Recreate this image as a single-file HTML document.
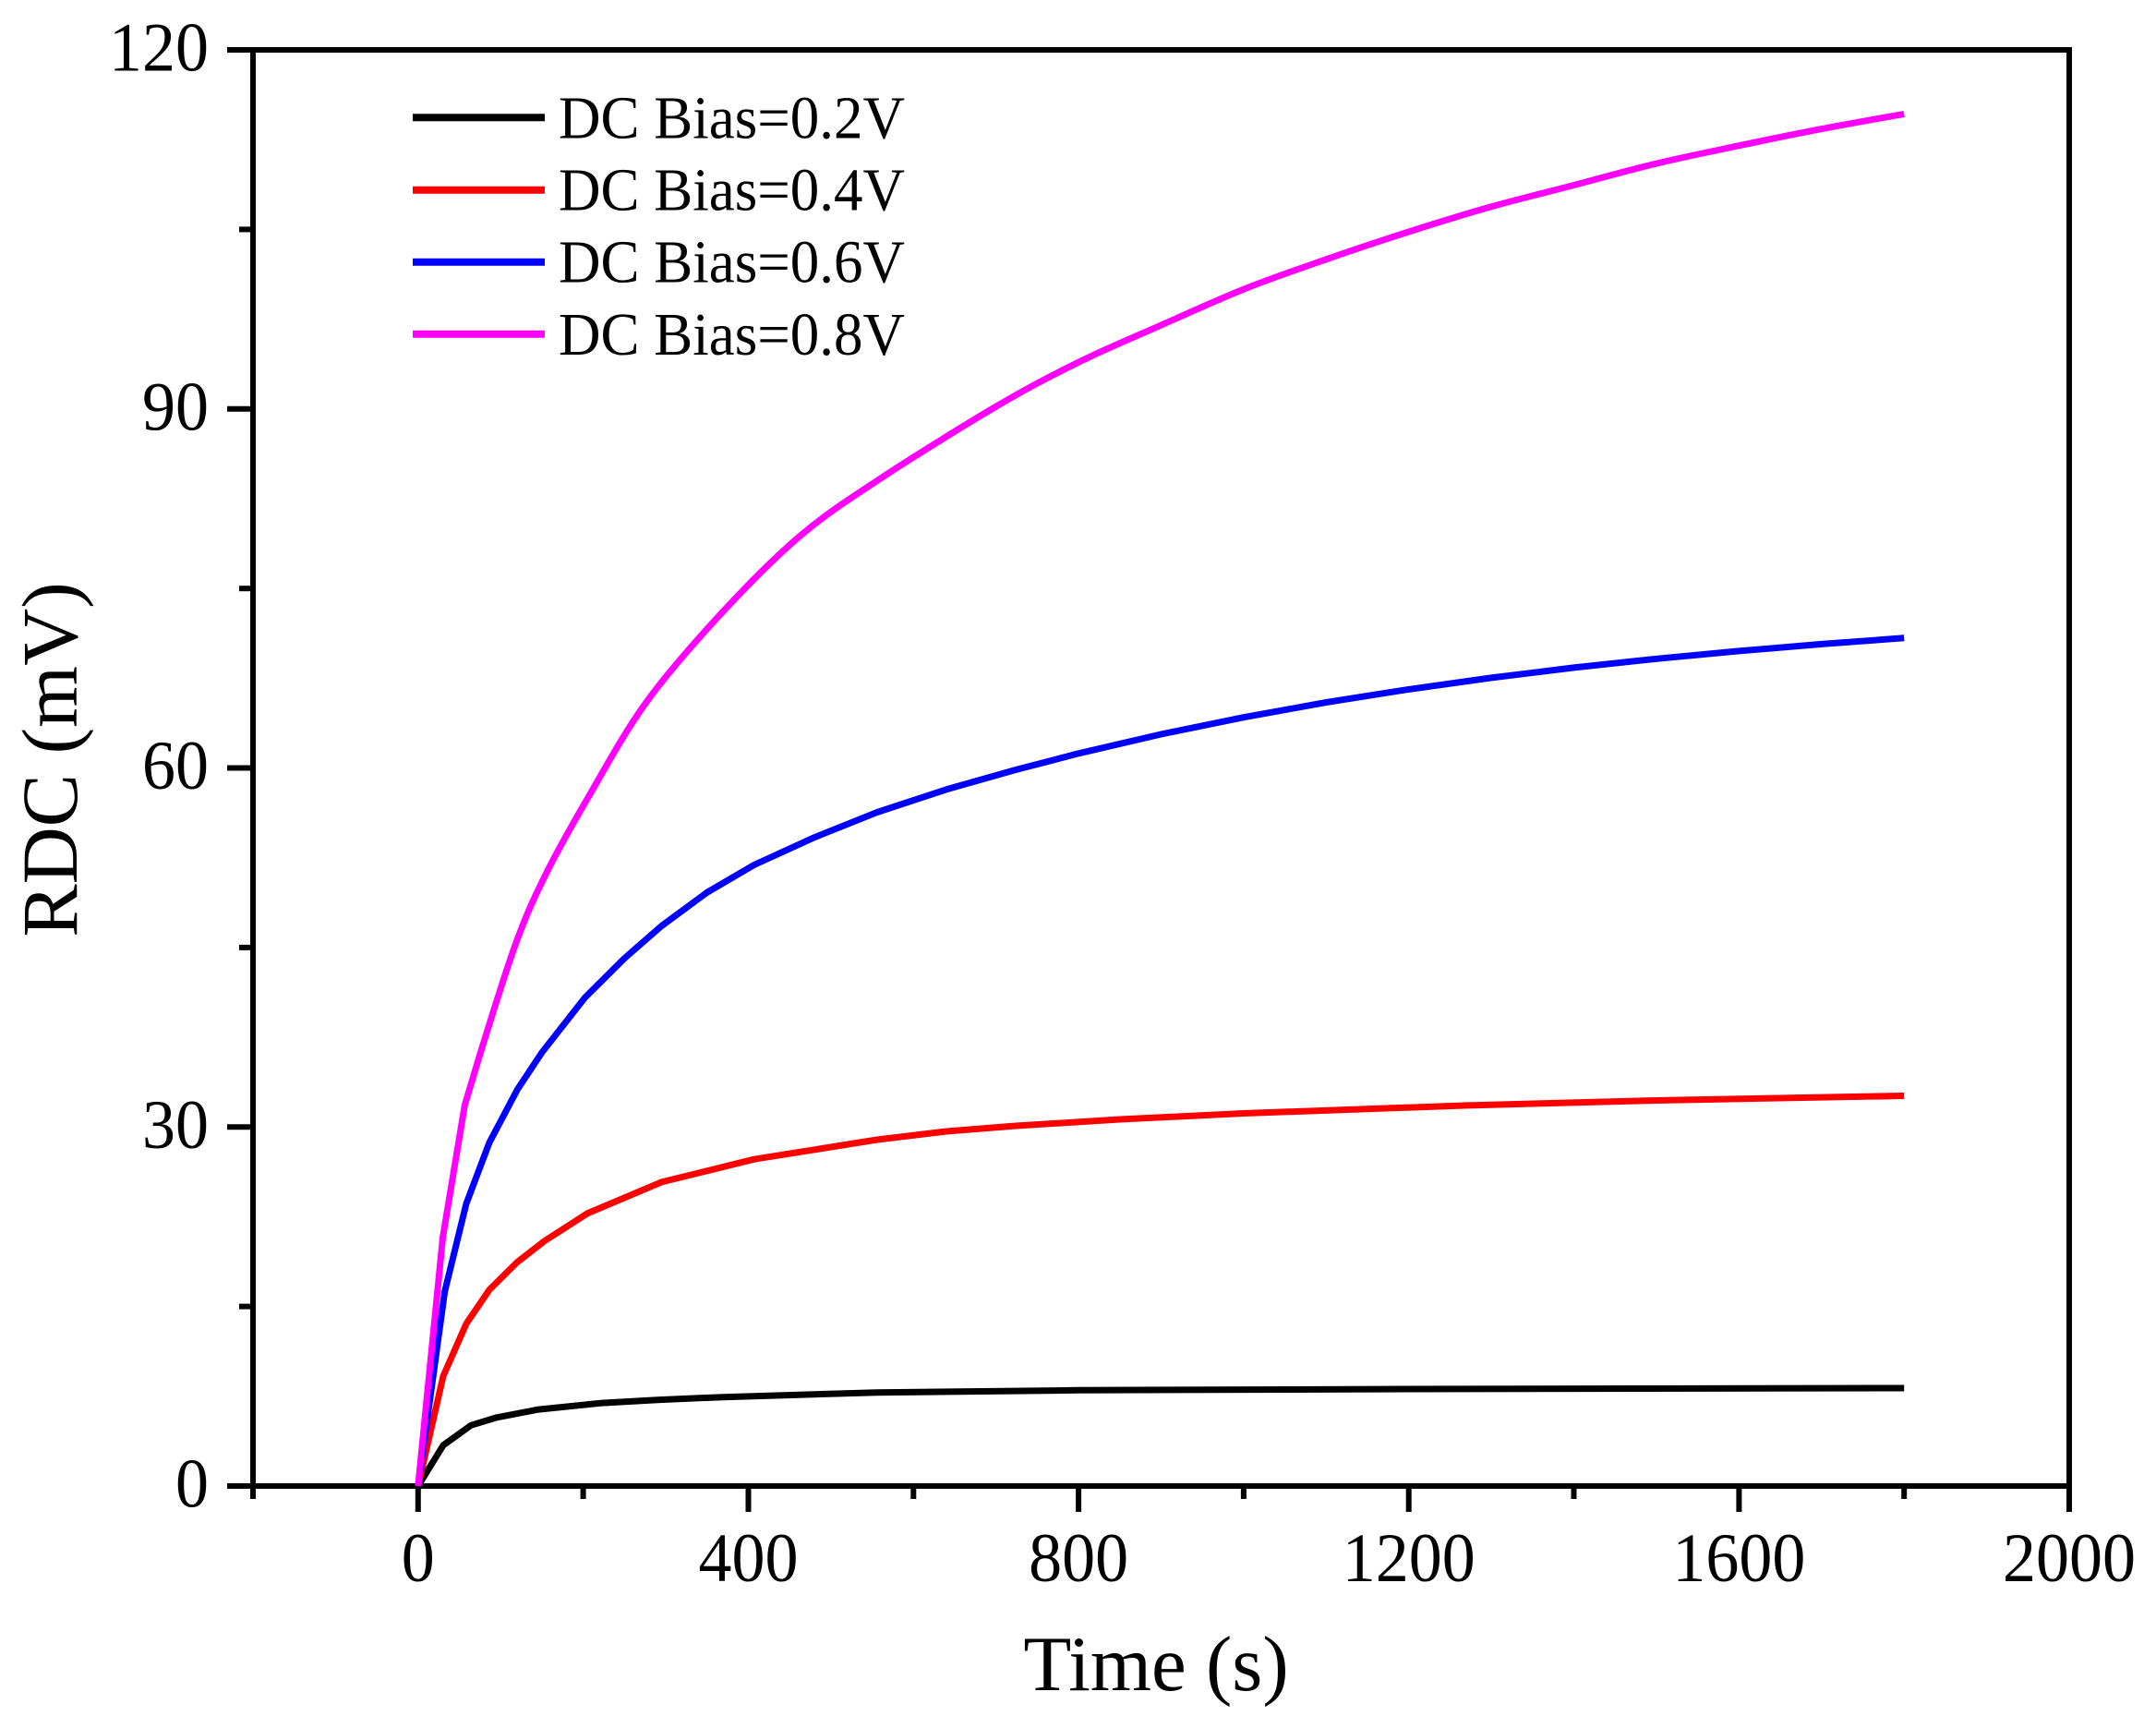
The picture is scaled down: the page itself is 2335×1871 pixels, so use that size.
<!DOCTYPE html>
<html>
<head>
<meta charset="utf-8">
<style>
  html, body { margin: 0; padding: 0; background: #fff; }
  svg { display: block; }
  text { font-family: "Liberation Serif", "Times New Roman", serif; fill: #000; }
</style>
</head>
<body>
<svg width="2335" height="1871" viewBox="0 0 2335 1871" xmlns="http://www.w3.org/2000/svg">
  <rect x="0" y="0" width="2335" height="1871" fill="#fff"/>

  <!-- Axes frame -->
  <rect x="274" y="54" width="1967" height="1555" fill="none" stroke="#000" stroke-width="6"/>

  <!-- Y ticks -->
  <g stroke="#000" stroke-width="6">
    <line x1="246" y1="1609" x2="274" y2="1609"/>
    <line x1="246" y1="1220.3" x2="274" y2="1220.3"/>
    <line x1="246" y1="831.5" x2="274" y2="831.5"/>
    <line x1="246" y1="442.8" x2="274" y2="442.8"/>
    <line x1="246" y1="54" x2="274" y2="54"/>
    <line x1="259" y1="1414.6" x2="274" y2="1414.6"/>
    <line x1="259" y1="1025.9" x2="274" y2="1025.9"/>
    <line x1="259" y1="637.2" x2="274" y2="637.2"/>
    <line x1="259" y1="248.4" x2="274" y2="248.4"/>
  </g>

  <!-- X ticks -->
  <g stroke="#000" stroke-width="6">
    <line x1="452.8" y1="1609" x2="452.8" y2="1637"/>
    <line x1="810.5" y1="1609" x2="810.5" y2="1637"/>
    <line x1="1168.1" y1="1609" x2="1168.1" y2="1637"/>
    <line x1="1525.7" y1="1609" x2="1525.7" y2="1637"/>
    <line x1="1883.4" y1="1609" x2="1883.4" y2="1637"/>
    <line x1="2241" y1="1609" x2="2241" y2="1637"/>
    <line x1="274" y1="1609" x2="274" y2="1623"/>
    <line x1="631.6" y1="1609" x2="631.6" y2="1623"/>
    <line x1="989.3" y1="1609" x2="989.3" y2="1623"/>
    <line x1="1346.9" y1="1609" x2="1346.9" y2="1623"/>
    <line x1="1704.5" y1="1609" x2="1704.5" y2="1623"/>
    <line x1="2062.2" y1="1609" x2="2062.2" y2="1623"/>
  </g>

  <!-- Y tick labels -->
  <g font-size="72" text-anchor="end">
    <text transform="translate(226,1631.5) scale(1,1.04)">0</text>
    <text transform="translate(226,1242.8) scale(1,1.04)">30</text>
    <text transform="translate(226,854) scale(1,1.04)">60</text>
    <text transform="translate(226,465.3) scale(1,1.04)">90</text>
    <text transform="translate(226,76.5) scale(1,1.04)">120</text>
  </g>

  <!-- X tick labels -->
  <g font-size="72" text-anchor="middle">
    <text transform="translate(452.8,1712) scale(1,1.04)">0</text>
    <text transform="translate(810.5,1712) scale(1,1.04)">400</text>
    <text transform="translate(1168.1,1712) scale(1,1.04)">800</text>
    <text transform="translate(1525.7,1712) scale(1,1.04)">1200</text>
    <text transform="translate(1883.4,1712) scale(1,1.04)">1600</text>
    <text transform="translate(2241,1712) scale(1,1.04)">2000</text>
  </g>

  <!-- Axis titles -->
  <text x="1252" y="1830" font-size="85" text-anchor="middle">Time (s)</text>
  <text transform="translate(83,822.5) rotate(-90)" font-size="86" text-anchor="middle">RDC (mV)</text>

  <!-- Curves -->
  <g fill="none" stroke-width="7" stroke-linejoin="round">
    <polyline stroke="#000000" points="452.8,1609 480.0,1564.9 510.0,1543.3 536.7,1535.1 583.3,1526.1 650.0,1519.3 712.1,1515.7 783.3,1512.7 949.9,1507.7 1168.1,1505.3 1525.7,1504.0 2062.2,1503.0"/>
    <polyline stroke="#ff0000" points="452.8,1609 480.0,1490.0 505.0,1433.3 530.0,1396.5 560.1,1366.7 590.1,1343.4 636.6,1313.6 716.6,1279.9 816.7,1255.2 949.9,1234 1025.0,1225 1100.1,1219 1212.8,1212 1346.9,1205.5 1585.6,1197 1793.9,1191.5 2062.2,1186.5"/>
    <polyline stroke="#0000ff" points="452.8,1609 481.7,1398.3 505.0,1303.2 530.0,1237.1 560.1,1180.1 586.7,1139.9 633.4,1080.3 676.3,1037.6 716.6,1002.5 765.7,966.3 816.7,936.5 882.0,906.7 949.9,879.5 1025.0,854.8 1100.1,833.5 1168.1,815.8 1257.5,795.0 1346.9,776.7 1436.3,760.5 1525.7,746.4 1615.1,733.9 1704.5,722.9 1793.9,713.3 1883.4,704.9 1972.8,697.4 2062.2,690.8"/>
    <path stroke="#ff00ff" d="M452.8,1609 L479.6,1339.5 L503.3,1196.7 L520.3,1140 C529.4,1111.1 546.4,1055.1 558,1023.3 C569.6,991.5 576.6,976.0 589.7,949.4 C602.8,922.8 618.3,895.4 636.7,863.9 C655.1,832.4 675.6,794.0 700,760.3 C724.5,726.6 755.6,691.8 783.4,661.8 C811.2,631.8 839.1,603.7 866.8,580.1 C894.6,556.6 914.6,543.8 949.9,520.5 C985.2,497.2 1042.3,461.6 1078.7,440.2 C1115.1,418.8 1138.3,406.9 1168.1,392.2 C1197.9,377.5 1227.7,365.3 1257.5,352.1 C1287.3,338.9 1317.1,325.1 1346.9,313.2 C1376.7,301.3 1406.5,291.2 1436.3,280.8 C1466.1,270.4 1495.9,260.5 1525.7,251.0 C1555.5,241.5 1585.3,232.2 1615.1,223.8 C1644.9,215.4 1674.7,208.3 1704.5,200.5 C1734.3,192.7 1764.1,184.2 1793.9,177.1 C1823.7,170.0 1853.6,164.0 1883.4,157.7 C1913.2,151.45 1943.0,145.3 1972.8,139.6 C2002.6,133.9 2047.3,126.1 2062.2,123.4"/>
  </g>

  <!-- Legend -->
  <g stroke-width="8">
    <line x1="447" y1="127.3" x2="590" y2="127.3" stroke="#000000"/>
    <line x1="447" y1="205.7" x2="590" y2="205.7" stroke="#ff0000"/>
    <line x1="447" y1="283.7" x2="590" y2="283.7" stroke="#0000ff"/>
    <line x1="447" y1="361.7" x2="590" y2="361.7" stroke="#ff00ff"/>
  </g>
  <g font-size="63">
    <text transform="translate(605,149.3) scale(1,1.05)">DC Bias=0.2V</text>
    <text transform="translate(605,227.5) scale(1,1.05)">DC Bias=0.4V</text>
    <text transform="translate(605,305.7) scale(1,1.05)">DC Bias=0.6V</text>
    <text transform="translate(605,384) scale(1,1.05)">DC Bias=0.8V</text>
  </g>
</svg>
</body>
</html>
